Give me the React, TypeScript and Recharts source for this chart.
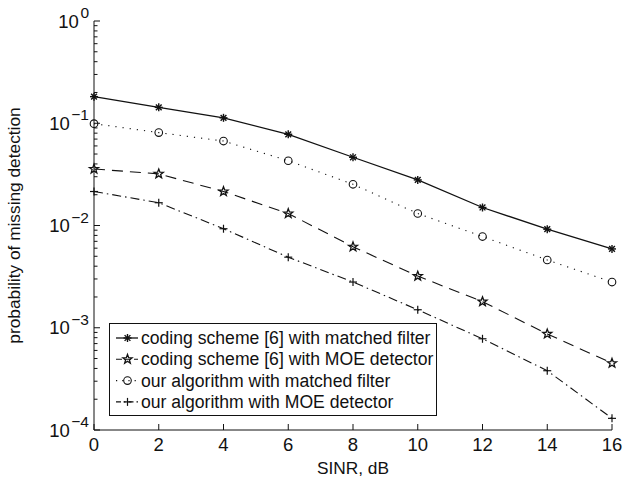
import React from 'react';
import { LineChart, Line, XAxis, YAxis, Legend, Label } from 'recharts';

const sinrValues = [0, 2, 4, 6, 8, 10, 12, 14, 16];
const codingMatched = [0.182, 0.143, 0.113, 0.078, 0.0465, 0.0279, 0.015, 0.0092, 0.0059];
const codingMOE = [0.0357, 0.032, 0.0215, 0.0131, 0.0062, 0.0032, 0.0018, 0.00087, 0.00045];
const oursMatched = [0.099, 0.081, 0.067, 0.043, 0.0253, 0.0131, 0.0078, 0.0046, 0.0028];
const oursMOE = [0.0215, 0.0167, 0.0093, 0.0049, 0.0028, 0.0015, 0.00078, 0.00038, 0.00013];

const xTicks = [0, 2, 4, 6, 8, 10, 12, 14, 16];
const yMajorTicks = [1e-4, 1e-3, 1e-2, 1e-1, 1];
const minorMultipliers = [2, 3, 4, 5, 6, 7, 8, 9];
const yAllTicks: number[] = [];
yMajorTicks.forEach((d, i) => {
  yAllTicks.push(d);
  if (i < yMajorTicks.length - 1) minorMultipliers.forEach((m) => yAllTicks.push(d * m));
});

const seriesNames = [
  'coding scheme [6] with matched filter',
  'coding scheme [6] with MOE detector',
  'our algorithm with matched filter',
  'our algorithm with MOE detector',
];

const data = sinrValues.map((x, i) => ({
  x,
  codingMatched: codingMatched[i],
  codingMOE: codingMOE[i],
  oursMatched: oursMatched[i],
  oursMOE: oursMOE[i],
}));

const FONT = '"Liberation Sans", Arial, Helvetica, sans-serif';

type MarkerKind = 'asterisk' | 'star' | 'circle' | 'plus';

const MarkerShape = ({ kind, cx, cy }: { kind: MarkerKind; cx: number; cy: number }) => {
  if (kind === 'asterisk') {
    const r = 4;
    const d = r * 0.72;
    return (
      <g stroke="#111" strokeWidth={1.4} fill="none">
        <line x1={cx - r} y1={cy} x2={cx + r} y2={cy} />
        <line x1={cx} y1={cy - r} x2={cx} y2={cy + r} />
        <line x1={cx - d} y1={cy - d} x2={cx + d} y2={cy + d} />
        <line x1={cx - d} y1={cy + d} x2={cx + d} y2={cy - d} />
      </g>
    );
  }
  if (kind === 'star') {
    const pts: string[] = [];
    for (let k = 0; k < 10; k++) {
      const rad = k % 2 === 0 ? 4.8 : 2.0;
      const a = -Math.PI / 2 + (k * Math.PI) / 5;
      pts.push(`${cx + rad * Math.cos(a)},${cy + rad * Math.sin(a)}`);
    }
    return <polygon points={pts.join(' ')} fill="none" stroke="#111" strokeWidth={1.3} />;
  }
  if (kind === 'circle') {
    return <circle cx={cx} cy={cy} r={3.8} fill="none" stroke="#111" strokeWidth={1.1} />;
  }
  const r = 4;
  return (
    <g stroke="#111" strokeWidth={1.2}>
      <line x1={cx - r} y1={cy} x2={cx + r} y2={cy} />
      <line x1={cx} y1={cy - r} x2={cx} y2={cy + r} />
    </g>
  );
};

const makeDot = (kind: MarkerKind) => (props: any) => {
  const { cx, cy, index } = props;
  if (cx == null || cy == null) return <g key={`${kind}-${index}`} />;
  return (
    <g key={`${kind}-${index}`}>
      <MarkerShape kind={kind} cx={cx} cy={cy} />
    </g>
  );
};

const seriesStyles: { key: string; kind: MarkerKind; dash?: string; width: number }[] = [
  { key: 'codingMatched', kind: 'asterisk', dash: undefined, width: 1.3 },
  { key: 'codingMOE', kind: 'star', dash: '11 7', width: 1.1 },
  { key: 'oursMatched', kind: 'circle', dash: '1.2 6', width: 1.1 },
  { key: 'oursMOE', kind: 'plus', dash: '9 4 1.5 4', width: 1.1 },
];

const supMap: Record<string, string> = { '0': '0', '-1': '\u22121', '-2': '\u22122', '-3': '\u22123', '-4': '\u22124' };

const YTick = (props: any) => {
  const { x, y, payload } = props;
  const v = payload.value as number;
  const isMajor = yMajorTicks.some((m) => Math.abs(v - m) / m < 1e-6);
  const ax = x;
  if (!isMajor) {
    return <line x1={ax} y1={y} x2={ax + 3.5} y2={y} stroke="#111" strokeWidth={1} />;
  }
  const exp = String(Math.round(Math.log10(v)));
  return (
    <g>
      <line x1={ax} y1={y} x2={ax + 6} y2={y} stroke="#111" strokeWidth={1} />
      <text x={ax - 5} y={y + 6.5} textAnchor="end" fontFamily={FONT} fontSize={18.5} fill="#111">
        <tspan>10</tspan>
        <tspan dx={1.5} dy={-9.5} fontSize={15.5}>{supMap[exp] ?? exp}</tspan>
      </text>
    </g>
  );
};

const XTick = (props: any) => {
  const { x, y, payload } = props;
  return (
    <g>
      <line x1={x} y1={y} x2={x} y2={y - 6} stroke="#111" strokeWidth={1} />
      <text x={x} y={y + 21} textAnchor="middle" fontFamily={FONT} fontSize={18.5} fill="#111">
        {payload.value}
      </text>
    </g>
  );
};

const LegendBox = () => {
  const rowY = [15, 36.3, 57.6, 78.9];
  return (
    <svg width={329} height={94} style={{ display: 'block' }}>
      <rect x={0.5} y={0.5} width={327} height={92} fill="#fff" stroke="#111" strokeWidth={1} />
      {seriesStyles.map((s, i) => (
        <g key={s.key}>
          <line x1={7} y1={rowY[i]} x2={29} y2={rowY[i]} stroke="#111" strokeWidth={s.width} strokeDasharray={s.dash ? (s.kind === 'star' ? '6 3' : s.kind === 'circle' ? '1.2 5' : '5 3 1.5 3') : undefined} />
          <MarkerShape kind={s.kind} cx={18.5} cy={rowY[i]} />
          <text x={32} y={rowY[i] + 6} fontFamily={FONT} fontSize={17.6} fill="#111">
            {seriesNames[i]}
          </text>
        </g>
      ))}
    </svg>
  );
};

export default function App() {
  return (
    <div style={{ position: 'absolute', left: 0, top: 0, width: 630, height: 480, background: '#fff' }}>
      <LineChart width={630} height={480} data={data} margin={{ top: 21, right: 18, left: 0, bottom: 0 }}>
        <XAxis
          type="number"
          dataKey="x"
          domain={[0, 16]}
          ticks={xTicks}
          tick={<XTick />}
          tickSize={0}
          tickMargin={0}
          height={50}
          axisLine={{ stroke: '#111', strokeWidth: 1 }}
          interval={0}
        >
          <Label value="SINR, dB" position="insideBottom" offset={6} style={{ fontFamily: FONT, fontSize: 17.3, fill: '#111' }} />
        </XAxis>
        <YAxis
          scale="log"
          domain={[1e-4, 1]}
          allowDataOverflow
          ticks={yAllTicks}
          tick={<YTick />}
          tickSize={0}
          tickMargin={0}
          width={94}
          interval={0}
          axisLine={{ stroke: '#111', strokeWidth: 1 }}
        >
          <Label
            value="probability of missing detection"
            angle={-90}
            position="insideLeft"
            offset={14}
            style={{ textAnchor: 'middle', fontFamily: FONT, fontSize: 17.3, fill: '#111' }}
          />
        </YAxis>
        {seriesStyles.map((s, i) => (
          <Line
            key={s.key}
            name={seriesNames[i]}
            dataKey={s.key}
            type="linear"
            stroke="#111"
            strokeWidth={s.width}
            strokeDasharray={s.dash}
            dot={makeDot(s.kind)}
            activeDot={false}
            isAnimationActive={false}
          />
        ))}
        <Legend
          layout="vertical"
          align="center"
          verticalAlign="middle"
          content={() => <LegendBox />}
          wrapperStyle={{ left: 109, top: 323, width: 329, height: 94, right: 'auto', bottom: 'auto' }}
        />
      </LineChart>
    </div>
  );
}
